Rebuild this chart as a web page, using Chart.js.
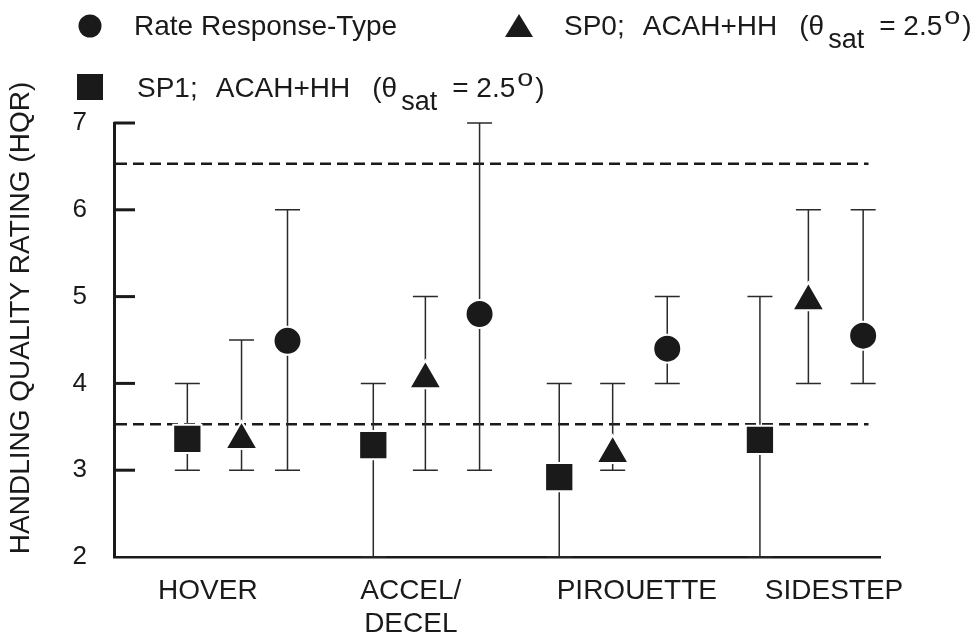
<!DOCTYPE html>
<html>
<head>
<meta charset="utf-8">
<script src="https://cdn.jsdelivr.net/npm/chart.js@4/dist/chart.umd.min.js"></script>
<style>
  html, body { margin: 0; padding: 0; background: #fff; }
  canvas { display: block; }
</style>
</head>
<body>
<canvas id="hqrChart" width="979" height="637"></canvas>
<script>
// x axis: task names and where their labels sit
const categories = ["HOVER", ["ACCEL/", "DECEL"], "PIROUETTE", "SIDESTEP"];
const categoryPos = [0.49, 1.55, 2.73, 3.76];

// SP1; ACAH+HH (squares)
const sp1X = [0.383, 1.354, 2.325, 3.373];
const sp1Mean = [3.36, 3.29, 2.92, 3.35];
const sp1Low = [3, 2, 2, 2];
const sp1High = [4, 4, 4, 5];

// SP0; ACAH+HH (triangles)
const sp0X = [0.666, 1.626, 2.604, 3.626];
const sp0Mean = [3.35, 4.05, 3.19, 4.95];
const sp0Low = [3, 3, 3, 4];
const sp0High = [4.5, 5, 4, 6];

// Rate response-type (circles)
const rateX = [0.906, 1.909, 2.889, 3.912];
const rateMean = [4.49, 4.80, 4.40, 4.55];
const rateLow = [3, 3, 4, 4];
const rateHigh = [6, 7, 5, 6];

// y ticks and level 1/2 boundary lines
const yTicks = [2, 3, 4, 5, 6, 7];
const boundaryLevels = [6.53, 3.53];
const boundaryEnd = 3.94;

const INK = "#1a1a1a";
const FONT = '"Liberation Sans", Arial, sans-serif';

function points(xs, ys) {
  return xs.map((x, i) => ({ x: x, y: ys[i] }));
}

// error bars + dashed boundaries, under the markers
const errorBars = {
  id: "errorBars",
  beforeDatasetsDraw(chart) {
    const ctx = chart.ctx;
    const xs = chart.scales.x, ys = chart.scales.y;
    ctx.save();
    ctx.strokeStyle = INK;
    ctx.lineWidth = 2.5;
    ctx.setLineDash([11, 6]);
    boundaryLevels.forEach(v => {
      const y = ys.getPixelForValue(v);
      ctx.beginPath();
      ctx.moveTo(xs.getPixelForValue(0) + 2, y);
      ctx.lineTo(xs.getPixelForValue(boundaryEnd), y);
      ctx.stroke();
    });
    ctx.setLineDash([]);
    ctx.strokeStyle = "#2a2a2a";
    ctx.lineWidth = 1.5;
    chart.data.datasets.forEach(ds => {
      ds.data.forEach((p, i) => {
        const x = xs.getPixelForValue(p.x);
        const lo = ys.getPixelForValue(ds.errLow[i]);
        const hi = ys.getPixelForValue(ds.errHigh[i]);
        ctx.beginPath();
        ctx.moveTo(x, lo); ctx.lineTo(x, hi);
        ctx.moveTo(x - 12.5, lo); ctx.lineTo(x + 12.5, lo);
        ctx.moveTo(x - 12.5, hi); ctx.lineTo(x + 12.5, hi);
        ctx.stroke();
      });
    });
    ctx.restore();
  },
  afterDraw(chart) {
    const ctx = chart.ctx;
    const ys = chart.scales.y;
    const left = chart.chartArea.left;
    ctx.save();
    // inward tick marks
    ctx.strokeStyle = INK;
    ctx.lineWidth = 3;
    yTicks.forEach(v => {
      if (v === ys.min) return;
      const y = ys.getPixelForValue(v);
      ctx.beginPath();
      ctx.moveTo(left, y); ctx.lineTo(left + 21, y);
      ctx.stroke();
    });
    // y title
    ctx.fillStyle = INK;
    ctx.font = "28px " + FONT;
    ctx.textAlign = "center";
    ctx.textBaseline = "middle";
    ctx.translate(21, 318);
    ctx.rotate(-Math.PI / 2);
    ctx.fillText("HANDLING QUALITY RATING (HQR)", 0, 0);
    ctx.restore();
    drawLegend(ctx);
  }
};

function drawRich(ctx, x, y, parts) {
  parts.forEach(p => {
    ctx.font = p.size + "px " + FONT;
    x += p.dx || 0;
    const sx = p.sx || 1;
    ctx.save();
    ctx.translate(x, y + (p.dy || 0));
    ctx.scale(sx, 1);
    ctx.fillText(p.text, 0, 0);
    ctx.restore();
    x += ctx.measureText(p.text).width * sx;
  });
}

function satParts(name) {
  return [
    { text: name + ";", size: 28 },
    { text: "ACAH+HH", size: 28, dx: 18 },
    { text: "(\u03b8", size: 28, dx: 22 },
    { text: "sat", size: 27, dx: 4, dy: 13 },
    { text: "= 2.5", size: 28, dx: 15 },
    { text: "o", size: 24, dx: 2, dy: -11, sx: 1.2 },
    { text: ")", size: 28, dx: 2 }
  ];
}

function drawLegend(ctx) {
  ctx.save();
  ctx.fillStyle = INK;
  ctx.textAlign = "left";
  ctx.textBaseline = "alphabetic";
  // circle
  ctx.beginPath();
  ctx.arc(90, 26, 11.5, 0, Math.PI * 2);
  ctx.fill();
  drawRich(ctx, 134, 35, [{ text: "Rate Response-Type", size: 28 }]);
  // triangle
  ctx.beginPath();
  ctx.moveTo(519, 14); ctx.lineTo(533, 37); ctx.lineTo(505, 37);
  ctx.closePath();
  ctx.fill();
  drawRich(ctx, 564, 35, satParts("SP0"));
  // square
  ctx.fillRect(77, 74, 26, 26);
  drawRich(ctx, 137, 97, satParts("SP1"));
  ctx.restore();
}

const markerBase = {
  showLine: false,
  pointBackgroundColor: INK,
  pointBorderColor: "#fff",
  pointBorderWidth: 2
};

new Chart(document.getElementById("hqrChart"), {
  type: "scatter",
  data: {
    datasets: [
      Object.assign({ label: "SP1; ACAH+HH", data: points(sp1X, sp1Mean), errLow: sp1Low, errHigh: sp1High,
        pointStyle: "rect", pointRadius: 20 }, markerBase),
      Object.assign({ label: "SP0; ACAH+HH", data: points(sp0X, sp0Mean), errLow: sp0Low, errHigh: sp0High,
        pointStyle: "triangle", pointRadius: 18.5 }, markerBase),
      Object.assign({ label: "Rate Response-Type", data: points(rateX, rateMean), errLow: rateLow, errHigh: rateHigh,
        pointStyle: "circle", pointRadius: 14 }, markerBase)
    ]
  },
  options: {
    responsive: false,
    animation: false,
    events: [],
    layout: { padding: { top: 123, right: 99, left: 0, bottom: 0 } },
    plugins: { legend: { display: false }, tooltip: { enabled: false } },
    scales: {
      x: {
        type: "linear",
        min: 0,
        max: 4,
        afterBuildTicks: (scale) => { scale.ticks = categoryPos.map(v => ({ value: v })); },
        afterFit: (scale) => { scale.height = 80; },
        grid: { drawOnChartArea: false, drawTicks: false },
        border: { display: true, color: INK, width: 2.5 },
        ticks: {
          autoSkip: false,
          maxRotation: 0,
          padding: 17,
          color: INK,
          font: { family: FONT, size: 28 },
          callback: (value, index) => categories[index]
        }
      },
      y: {
        min: 2,
        max: 7,
        afterBuildTicks: (scale) => { scale.ticks = yTicks.map(v => ({ value: v })); },
        afterFit: (scale) => { scale.width = 114; },
        grid: { drawOnChartArea: false, drawTicks: false },
        border: { display: true, color: INK, width: 3 },
        ticks: {
          padding: 27,
          color: INK,
          font: { family: FONT, size: 26 }
        }
      }
    }
  },
  plugins: [errorBars]
});
</script>
</body>
</html>
